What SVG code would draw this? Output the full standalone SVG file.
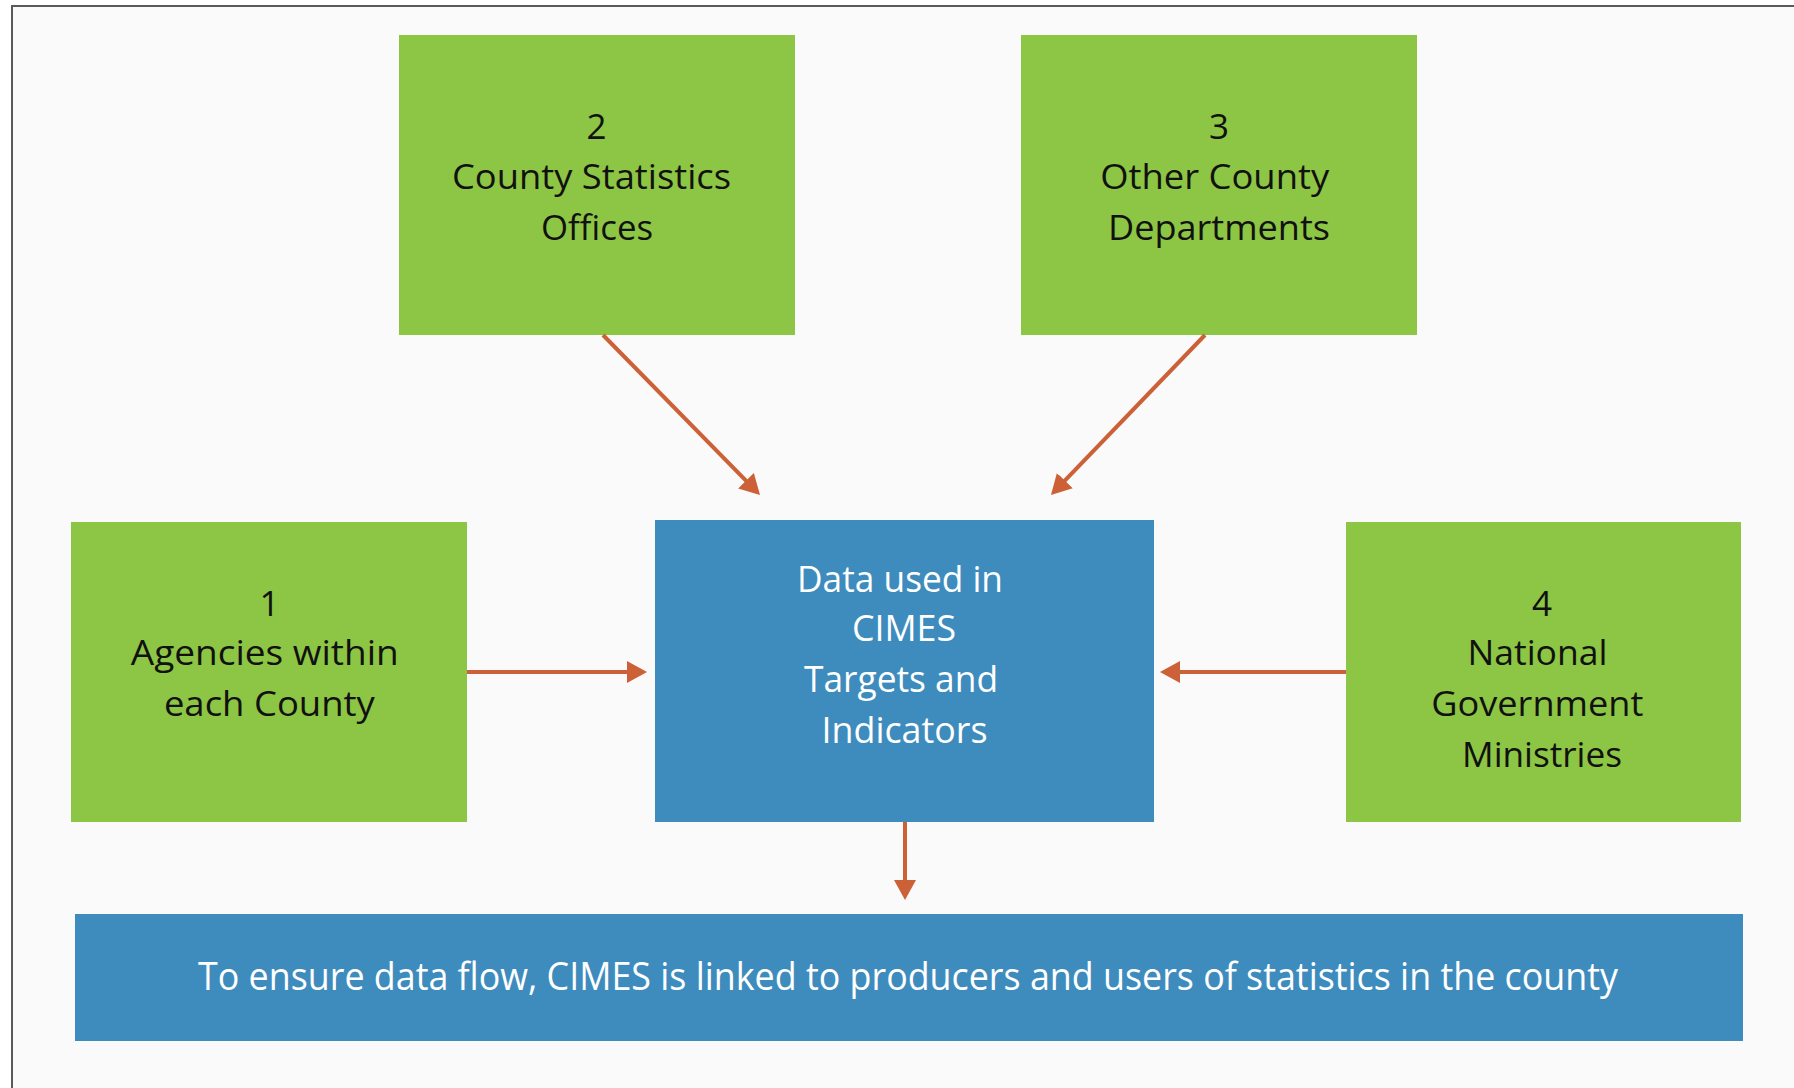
<svg xmlns="http://www.w3.org/2000/svg" width="1794" height="1088" viewBox="0 0 1794 1088">
<style>
.green{fill:#8dc544}
.blue{fill:#3e8cbd}
.t{font-family:"Open Sans","Noto Sans","DejaVu Sans",sans-serif;font-size:35px;fill:#111;text-anchor:middle}
.w{font-family:"Open Sans","Noto Sans","DejaVu Sans",sans-serif;font-size:36px;fill:#fff;text-anchor:middle}
.b{font-family:"Open Sans","Noto Sans","DejaVu Sans",sans-serif;font-size:39px;fill:#fff;text-anchor:middle}
.arr{stroke:#cc6036;stroke-width:4;fill:none;marker-end:url(#ah)}
</style>
<defs>
<marker id="ah" markerUnits="userSpaceOnUse" markerWidth="20" markerHeight="22" refX="8" refY="11" orient="auto" viewBox="0 0 20 22">
<path d="M0,0 L20,11 L0,22 z" fill="#cc6036"/>
</marker>
</defs>
<rect x="0" y="0" width="1794" height="1088" fill="#ffffff"/>
<rect x="12" y="6" width="1800" height="1100" fill="#fafafa" stroke="#5a5a5a" stroke-width="2"/>
<g id="node2">
<rect class="green" x="399" y="35" width="396" height="300"/>
<text class="t" x="596.5" y="139">2</text>
<text class="t" x="591.5" y="189" textLength="279" lengthAdjust="spacingAndGlyphs">County Statistics</text>
<text class="t" x="597" y="240" textLength="112" lengthAdjust="spacingAndGlyphs">Offices</text>
</g>
<g id="node3">
<rect class="green" x="1021" y="35" width="396" height="300"/>
<text class="t" x="1219" y="139">3</text>
<text class="t" x="1214.7" y="189" textLength="229" lengthAdjust="spacingAndGlyphs">Other County</text>
<text class="t" x="1219" y="240" textLength="222" lengthAdjust="spacingAndGlyphs">Departments</text>
</g>
<g id="node1">
<rect class="green" x="71" y="522" width="396" height="300"/>
<text class="t" x="269.5" y="615.5">1</text>
<text class="t" x="264.8" y="665" textLength="268" lengthAdjust="spacingAndGlyphs">Agencies within</text>
<text class="t" x="269.4" y="716" textLength="211" lengthAdjust="spacingAndGlyphs">each County</text>
</g>
<g id="node4">
<rect class="green" x="1346" y="522" width="395" height="300"/>
<text class="t" x="1542" y="615.5">4</text>
<text class="t" x="1537.5" y="665" textLength="140" lengthAdjust="spacingAndGlyphs">National</text>
<text class="t" x="1537.3" y="716" textLength="212" lengthAdjust="spacingAndGlyphs">Government</text>
<text class="t" x="1542" y="766.5" textLength="160" lengthAdjust="spacingAndGlyphs">Ministries</text>
</g>
<g id="center">
<rect class="blue" x="655" y="520" width="499" height="302"/>
<text class="w" x="900" y="592" textLength="206" lengthAdjust="spacingAndGlyphs">Data used in</text>
<text class="w" x="904" y="641" textLength="104" lengthAdjust="spacingAndGlyphs">CIMES</text>
<text class="w" x="901" y="692" textLength="194" lengthAdjust="spacingAndGlyphs">Targets and</text>
<text class="w" x="904.5" y="743" textLength="166" lengthAdjust="spacingAndGlyphs">Indicators</text>
</g>
<g id="bottom">
<rect class="blue" x="75" y="914" width="1668" height="127"/>
<text class="b" x="908" y="990" textLength="1420" lengthAdjust="spacingAndGlyphs">To ensure data flow, CIMES is linked to producers and users of statistics in the county</text>
</g>
<g id="connectors">
<line class="arr" x1="467" y1="672" x2="635" y2="672"/>
<line class="arr" x1="1346" y1="672" x2="1172" y2="672"/>
<line class="arr" x1="603" y1="335" x2="751.6" y2="486.4"/>
<line class="arr" x1="1205" y1="335" x2="1059.3" y2="486.4"/>
<line class="arr" x1="905" y1="822" x2="905" y2="888"/>
</g>
</svg>
